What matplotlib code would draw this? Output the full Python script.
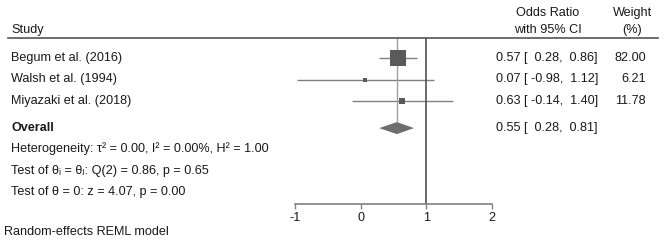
import matplotlib
matplotlib.use("Agg")
import matplotlib.pyplot as plt
from matplotlib.lines import Line2D

studies = ["Begum et al. (2016)", "Walsh et al. (1994)", "Miyazaki et al. (2018)"]
es = [0.57, 0.07, 0.63]
lo = [0.28, -0.98, -0.14]
hi = [0.86, 1.12, 1.40]
weights = [82.00, 6.21, 11.78]
overall = (0.55, 0.28, 0.81)
stats_lines = [
    "Heterogeneity: \u03c4\u00b2 = 0.00, I\u00b2 = 0.00%, H\u00b2 = 1.00",
    "Test of \u03b8\u1d62 = \u03b8\u2c7c: Q(2) = 0.86, p = 0.65",
    "Test of \u03b8 = 0: z = 4.07, p = 0.00",
]
ticks = [-1, 0, 1, 2]

plt.rcParams['font.family'] = ['Liberation Sans', 'DejaVu Sans']
plt.rcParams['axes.unicode_minus'] = False
FS = 9.1
TXT = '#1a1a1a'

W, H = 666, 250
fig = plt.figure(figsize=(W / 100, H / 100), dpi=100)


def fx(px):
    return px / W


def fy(py):
    return 1 - py / H


# plot panel: x -1..2 spans pixels 295..492, y from header line to axis
ax = fig.add_axes([fx(295.3), fy(204), fx(492) - fx(295.3), fy(38) - fy(204)])
rows = [1, 2, 3]
row_overall = 4.26
ytop, ybot = 0.07, 7.79
ax.set_xlim(-1, 2)
ax.set_ylim(ybot, ytop)

for y, e, l, h, w in zip(rows, es, lo, hi, weights):
    ax.plot([l, h], [y, y], color='#808080', lw=1, solid_capstyle='butt')
    ax.plot(e, y, marker='s', color='#5a5a5a', ms=1.66 * w ** 0.5 * 0.72,
            mew=0, zorder=3)

oe, ol, oh = overall
dh = 0.28
ax.fill([ol, oe, oh, oe], [row_overall, row_overall - dh, row_overall, row_overall + dh],
        color='#6e6e6e', lw=0, zorder=3)
ax.vlines(oe, ytop, row_overall - dh, color='#a0a0a0', lw=1)
ax.axvline(1, color='#505050', lw=1.2)

for s in ['top', 'right', 'left']:
    ax.spines[s].set_visible(False)
ax.spines['bottom'].set_color('#808080')
ax.spines['bottom'].set_linewidth(1.2)
ax.set_yticks([])
ax.set_xticks(ticks)
ax.set_xticklabels([str(t) for t in ticks])
ax.tick_params(axis='x', length=3.5, width=1, color='#808080', labelsize=FS,
               labelcolor=TXT, pad=2)
ax.patch.set_alpha(0)

# header
fig.add_artist(Line2D([fx(8), fx(658)], [fy(38), fy(38)], color='#555555', lw=1.2))
fig.text(fx(11), fy(30), "Study", fontsize=FS, color=TXT, va='center')
fig.text(fx(548), fy(13), "Odds Ratio", fontsize=FS, color=TXT, va='center', ha='center')
fig.text(fx(548), fy(30), "with 95% CI", fontsize=FS, color=TXT, va='center', ha='center')
fig.text(fx(632.5), fy(13), "Weight", fontsize=FS, color=TXT, va='center', ha='center')
fig.text(fx(632.5), fy(30), "(%)", fontsize=FS, color=TXT, va='center', ha='center')

row_px = [58, 79, 101]
for py, name, e, l, h, w in zip(row_px, studies, es, lo, hi, weights):
    fig.text(fx(11), fy(py), name, fontsize=FS, color=TXT, va='center')
    fig.text(fx(496), fy(py), f"{e:.2f} [{l:6.2f},{h:6.2f}]", fontsize=FS,
             color=TXT, va='center')
    fig.text(fx(646), fy(py), f"{w:.2f}", fontsize=FS, color=TXT, va='center', ha='right')

fig.text(fx(11), fy(128), "Overall", fontsize=FS, color=TXT, va='center', weight='bold')
fig.text(fx(496), fy(128), f"{oe:.2f} [{ol:6.2f},{oh:6.2f}]", fontsize=FS,
         color=TXT, va='center')
for py, s in zip([149, 171, 192], stats_lines):
    fig.text(fx(11), fy(py), s, fontsize=FS, color=TXT, va='center')

fig.text(fx(4), fy(232), "Random-effects REML model", fontsize=FS, color=TXT, va='center')

fig.savefig("out.png", dpi=100, facecolor='white')
